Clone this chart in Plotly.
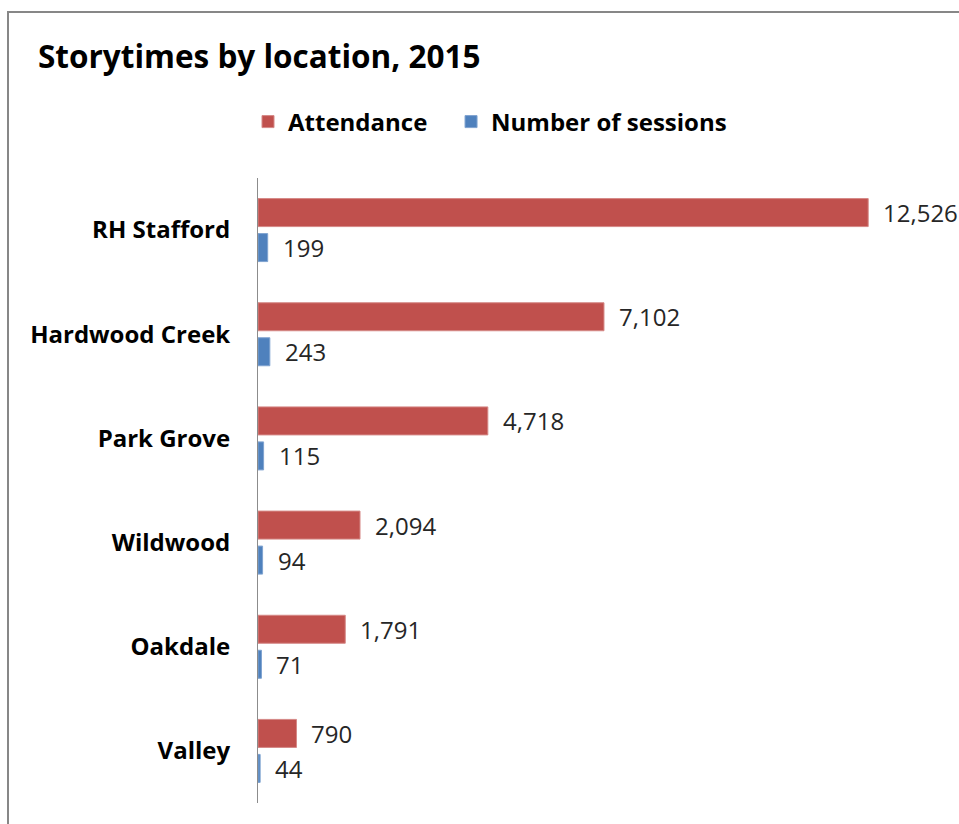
import plotly.graph_objects as go

# Storytime figures per branch, listed top to bottom
locations = ["RH Stafford", "Hardwood Creek", "Park Grove", "Wildwood", "Oakdale", "Valley"]
attendance = [12526, 7102, 4718, 2094, 1791, 790]
sessions = [199, 243, 115, 94, 71, 44]

RED = "#C0504D"
BLUE = "#4F81BD"
FONT = "Open Sans"
NBSP = "\u00a0"

W, H = 959, 824
ML, MR, MT, MB = 258, 19, 178, 21
PW = W - ML - MR
PH = H - MT - MB

fig = go.Figure()
fig.add_trace(go.Bar(
    y=locations, x=attendance, orientation="h", name="Attendance" + NBSP * 3,
    marker=dict(color=RED, line=dict(color="#D58886", width=1)),
))
fig.add_trace(go.Bar(
    y=locations, x=sessions, orientation="h", name="Number of sessions",
    marker=dict(color=BLUE, line=dict(color="#7FA3D0", width=1)),
))

# value labels to the right of each bar
label_font = dict(family=FONT, size=24, color="#262626")
annotations = []
for loc, a, s in zip(locations, attendance, sessions):
    annotations.append(dict(x=a, y=loc, xref="x", yref="y", text=f"{a:,}",
                            showarrow=False, xanchor="left", yanchor="middle",
                            xshift=13, yshift=17.5, font=label_font))
    annotations.append(dict(x=s, y=loc, xref="x", yref="y", text=f"{s:,}",
                            showarrow=False, xanchor="left", yanchor="middle",
                            xshift=13, yshift=-17.5, font=label_font))

# chart frame
border = dict(type="rect", xref="paper", yref="paper",
              x0=(8 - ML) / PW, x1=2.0, y0=-0.5, y1=(PH + MT - 12) / PH,
              line=dict(color="#878787", width=2), fillcolor="rgba(0,0,0,0)",
              layer="below")

fig.update_layout(
    width=W, height=H,
    margin=dict(l=ML, r=MR, t=MT, b=MB),
    paper_bgcolor="white", plot_bgcolor="white",
    barmode="group", bargap=0.328, bargroupgap=0.2,
    title=dict(text="<b>Storytimes by location, 2015</b>",
               x=38 / W, xanchor="left", xref="container",
               y=1 - 57 / H, yanchor="middle", yref="container",
               font=dict(family=FONT, size=31.5, color="#000000")),
    legend=dict(orientation="h", x=(248 - ML) / PW, xanchor="left",
                y=(PH + MT - 122) / PH, yanchor="middle",
                font=dict(family=FONT, size=24, color="#000000", weight="bold"),
                bgcolor="rgba(0,0,0,0)", traceorder="normal"),
    xaxis=dict(range=[0, 14000], showgrid=False, zeroline=False,
               showticklabels=False, showline=False, fixedrange=True),
    yaxis=dict(autorange="reversed", showgrid=False, zeroline=False,
               showline=True, linecolor="#8C8C8C", linewidth=1,
               ticks="", ticklabelstandoff=22,
               tickfont=dict(family=FONT, size=24, color="#000000", weight="bold"),
               categoryorder="array", categoryarray=locations),
    annotations=annotations,
    shapes=[border],
    showlegend=True,
)

fig.write_html("out.html")
